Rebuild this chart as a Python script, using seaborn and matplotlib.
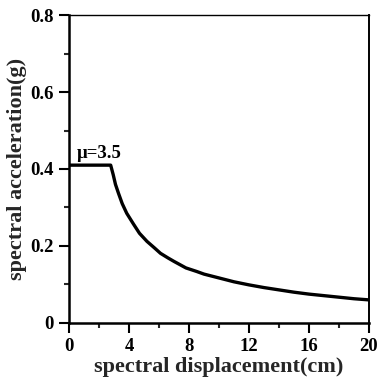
import matplotlib
matplotlib.use("Agg")
import matplotlib.pyplot as plt
import seaborn as sns
import pandas as pd
from matplotlib.ticker import MultipleLocator

# data
sd = [0.0, 2.78, 2.95, 3.1, 3.3, 3.55, 3.85, 4.3, 4.7, 5.2, 5.7, 6.1, 6.6, 7.0, 7.8,
      8.5, 9.0, 10.0, 11.0, 12.0, 13.0, 14.0, 15.0, 16.0, 17.0, 18.0, 19.0, 20.0]
sa = [0.41, 0.41, 0.385, 0.36, 0.337, 0.31, 0.285, 0.257, 0.233, 0.212, 0.195, 0.181, 0.169,
      0.160, 0.143, 0.134, 0.127, 0.117, 0.107, 0.099, 0.092, 0.086, 0.080, 0.075, 0.071,
      0.067, 0.063, 0.060]
x_ticks = [0, 4, 8, 12, 16, 20]
y_ticks = [0, 0.2, 0.4, 0.6, 0.8]
y_tick_labels = ["0", "0.2", "0.4", "0.6", "0.8"]
annotation = "μ=3.5"

sns.set_theme(style="ticks")
plt.rcParams["font.family"] = ["Liberation Serif", "DejaVu Serif"]

df = pd.DataFrame({"sd": sd, "sa": sa})

fig = plt.figure(figsize=(3.78, 3.83), dpi=100)
ax = fig.add_axes([0.1825, 0.1567, 0.7935, 0.8041])
sns.lineplot(data=df, x="sd", y="sa", ax=ax, color="black", linewidth=2.4, sort=False)

ax.set_xlim(0, 20)
ax.set_ylim(0, 0.8)
ax.set_xticks(x_ticks)
ax.set_xticklabels([str(t) for t in x_ticks])
ax.set_yticks(y_ticks)
ax.set_yticklabels(y_tick_labels)
ax.xaxis.set_minor_locator(MultipleLocator(2))
ax.yaxis.set_minor_locator(MultipleLocator(0.1))
ax.tick_params(axis="both", which="major", direction="out", length=7, width=1.5,
               labelsize=13.5, colors="black", pad=4)
ax.tick_params(axis="both", which="minor", direction="out", length=3.5, width=1.5)
for lab in ax.get_xticklabels() + ax.get_yticklabels():
    lab.set_fontweight("bold")

ax.set_xlabel("spectral displacement(cm)", fontsize=16, fontweight="bold", labelpad=1)
ax.set_ylabel("spectral acceleration(g)", fontsize=16, fontweight="bold", labelpad=2)

for side in ["left", "bottom"]:
    ax.spines[side].set_linewidth(1.8)
ax.spines["right"].set_linewidth(1.4)
ax.spines["top"].set_linewidth(1.0)
for s in ax.spines.values():
    s.set_color("black")
    s.set_visible(True)

ax.text(0.55, 0.428, annotation, fontsize=13.5, fontweight="bold", color="black",
        ha="left", va="baseline")

fig.savefig("out.png", dpi=100)
